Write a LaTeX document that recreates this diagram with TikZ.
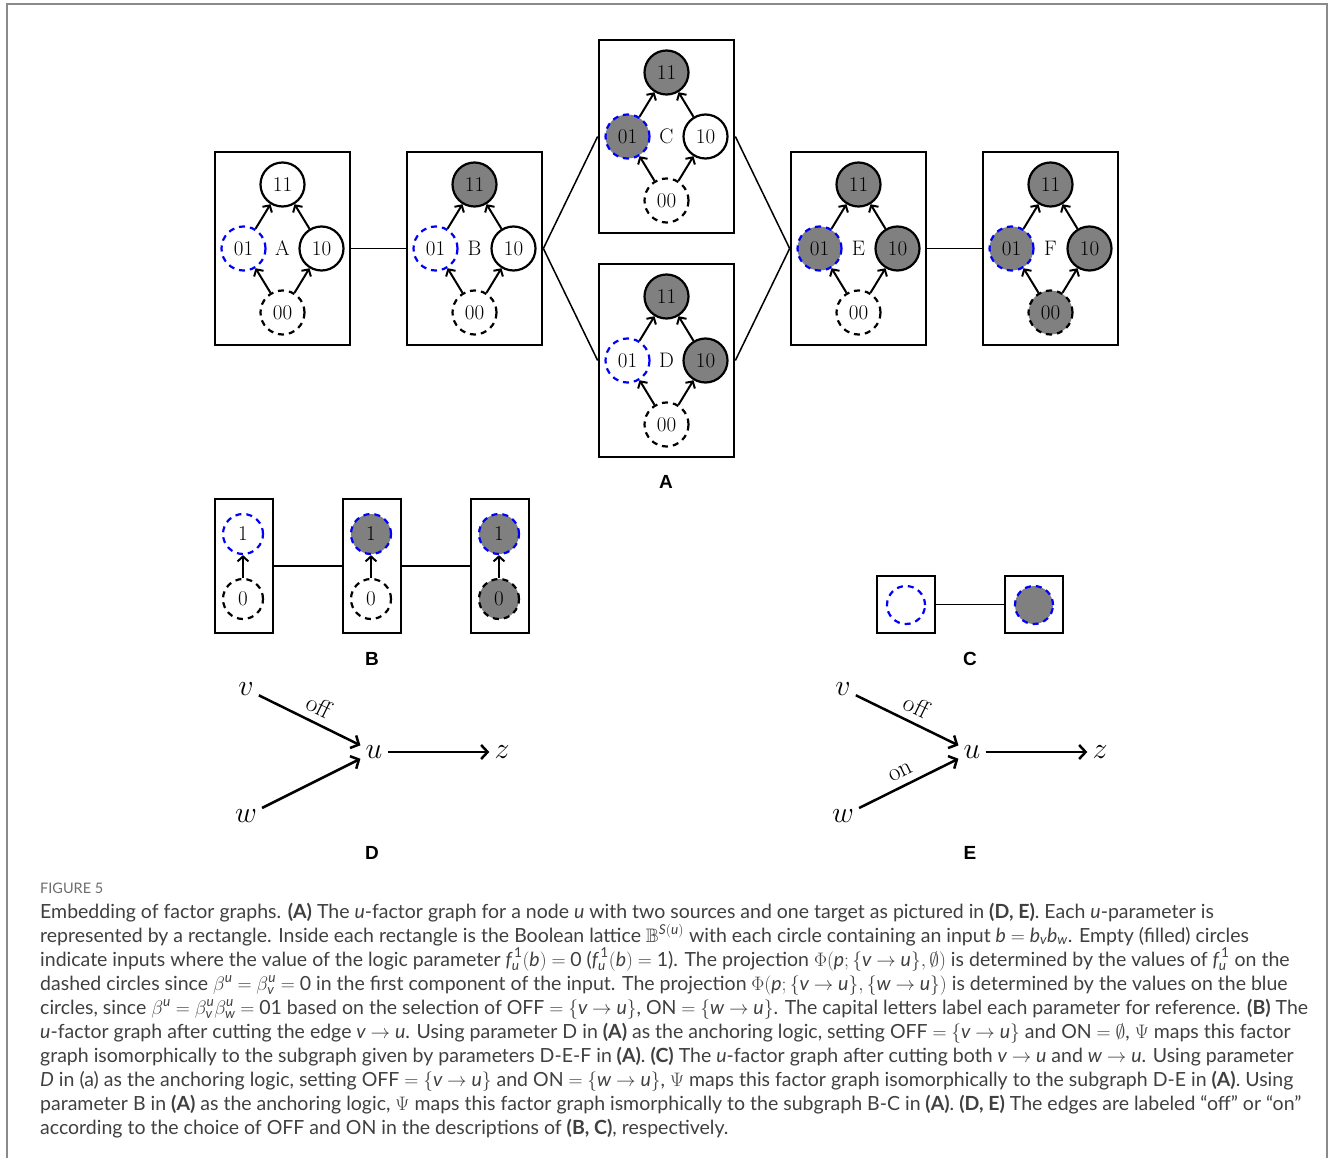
\RequirePackage{fix-cm}
\documentclass[tikz,border=0pt]{standalone}
\usepackage{amsmath}
\usepackage{amssymb}
\usepackage{fontspec}
\newfontfamily\capfont{Lato}
\newfontfamily\labfont{Liberation Sans}
\usetikzlibrary{arrows.meta}

\definecolor{captext}{HTML}{404040}
\definecolor{framegray}{HTML}{8A8A8A}

\newcommand\V[1]{\textit{#1}}
\newcommand\tightmath{\thickmuskip=4.5mu plus 1mu\medmuskip=3.5mu plus 1mu}

% one parameter box: Boolean lattice of two inputs
\newcommand\lattice[7]{%
  \node[pbox, minimum width=135pt, minimum height=193pt] (#1) at (#2,#3) {};
  \node[letter] (#1-lab) at (#2,#3) {#1};
  \node[lat,#4] (#1-11) at (#2,#3-64) {11};
  \node[lat,#5] (#1-01) at (#2-39,#3) {01};
  \node[lat,#6] (#1-10) at (#2+39,#3) {10};
  \node[lat,#7] (#1-00) at (#2,#3+64) {00};
  \draw[lar] (#1-00) -- (#1-01);
  \draw[lar] (#1-00) -- (#1-10);
  \draw[lar] (#1-01) -- (#1-11);
  \draw[lar] (#1-10) -- (#1-11);
}

% one parameter box: lattice of a single input
\newcommand\chain[4]{%
  \node[pbox, minimum width=58pt, minimum height=134pt] (#1) at (#2,566) {};
  \node[lat,minimum size=40pt,#3] (#1-1) at (#2-1,534) {1};
  \node[lat,minimum size=40pt,#4] (#1-0) at (#2-1,599) {0};
  \draw[lar] (#1-0) -- (#1-1);
}

\tikzset{
  pbox/.style={draw, line width=2.7pt, inner sep=0pt},
  lat/.style={circle, draw, line width=2.2pt, minimum size=44pt, inner sep=0pt,
    font=\fontsize{21}{21}\selectfont},
  letter/.style={font=\fontsize{21}{21}\selectfont, inner sep=0pt},
  dsh/.style={dash pattern=on 6pt off 5pt},
  ws/.style={fill=white},
  gs/.style={fill=gray},
  wbd/.style={fill=white, draw=blue, dsh},
  gbd/.style={fill=gray, draw=blue, dsh},
  wkd/.style={fill=white, dsh},
  gkd/.style={fill=gray, dsh},
  lar/.style={-{Straight Barb[length=5pt,width=11pt]}, line width=2pt},
  link/.style={line width=1.5pt},
  dar/.style={-{Straight Barb[length=6.5pt,width=14pt]}, line width=2.5pt},
  mvar/.style={font=\fontsize{30}{30}\selectfont, inner sep=5pt},
  elab/.style={font=\fontsize{25}{25}\selectfont, pos=0.52, above, sloped, inner sep=7pt},
  panel/.style={font=\labfont\bfseries\fontsize{19}{19}\selectfont},
  capline/.style={anchor=base west, inner sep=0pt, text=captext,
    font=\capfont\fontsize{19.5}{22}\selectfont\tightmath},
}

\begin{document}
\begin{tikzpicture}[x=1pt,y=-1pt]
\useasboundingbox (0,0) rectangle (1330,1158);
\fill[white] (0,0) rectangle (1330,1158);
\draw[framegray, line width=2pt] (7,1158) -- (7,4) -- (1327,4) -- (1327,1158);

% (A) the u-factor graph
\lattice{A}{282.5}{248.5}{ws}{wbd}{ws}{wkd}
\lattice{B}{474.5}{248.5}{gs}{wbd}{ws}{wkd}
\lattice{C}{666.5}{136.5}{gs}{gbd}{ws}{wkd}
\lattice{D}{666.5}{360.5}{gs}{wbd}{gs}{wkd}
\lattice{E}{858.5}{248.5}{gs}{gbd}{gs}{wkd}
\lattice{F}{1050.5}{248.5}{gs}{gbd}{gs}{gkd}
\draw[link] (A.east) -- (B.west);
\draw[link] (B.east) -- (C.west);
\draw[link] (B.east) -- (D.west);
\draw[link] (C.east) -- (E.west);
\draw[link] (D.east) -- (E.west);
\draw[link] (E.east) -- (F.west);
\node[panel] (labA) at (666,482) {A};

% (B) after cutting v -> u
\chain{b1}{244}{wbd}{wkd}
\chain{b2}{372}{gbd}{wkd}
\chain{b3}{500}{gbd}{gkd}
\draw[link] (b1.east) -- (b2.west);
\draw[link] (b2.east) -- (b3.west);
\node[panel] (labB) at (372,659) {B};

% (C) after cutting both edges
\node[pbox, minimum width=58pt, minimum height=57pt] (c1) at (906,604.5) {};
\node[pbox, minimum width=58pt, minimum height=57pt] (c2) at (1034,604.5) {};
\node[lat, minimum size=38pt, wbd] (c1-0) at (906,605) {};
\node[lat, minimum size=38pt, gbd] (c2-0) at (1034,605) {};
\draw[link] (c1.east) -- (c2.west);
\node[panel] (labC) at (970,659) {C};

% (D) network with the off edge
\node[mvar] (dv) at (246,689) {$v$};
\node[mvar] (dw) at (246,816) {$w$};
\node[mvar] (du) at (374,752) {$u$};
\node[mvar] (dz) at (502,752) {$z$};
\draw[dar] (dv) -- node[elab] {off} (du);
\draw[dar] (dw) -- (du);
\draw[dar] (du) -- (dz);
\node[panel] (labD) at (372,853) {D};

% (E) network with off and on edges
\node[mvar] (ev) at (843,689) {$v$};
\node[mvar] (ew) at (843,816) {$w$};
\node[mvar] (eu) at (972,752) {$u$};
\node[mvar] (ez) at (1100,752) {$z$};
\draw[dar] (ev) -- node[elab] {off} (eu);
\draw[dar] (ew) -- node[elab, pos=0.48] {on} (eu);
\draw[dar] (eu) -- (ez);
\node[panel] (labE) at (970,853) {E};

% caption
\node[capline, text=framegray!80!black, font=\capfont\fontsize{14.5}{16}\selectfont] (fig) at (40,893) {FIGURE 5};
\node[capline] (l1) at (40,918) {Embedding of factor graphs. \textbf{(A)} The \V{u}-factor graph for a node \V{u} with two sources and one target as pictured in \textbf{(D, E)}. Each \V{u}-parameter is};
\node[capline] (l2) at (40,942) {represented by a rectangle. Inside each rectangle is the Boolean lattice $\mathbb{B}^{\V{S}(\V{u})}$ with each circle containing an input $\V{b}=\V{b}_{\V{v}}\V{b}_{\V{w}}$. Empty (filled) circles};
\node[capline] (l3) at (40,966) {indicate inputs where the value of the logic parameter $\V{f}^{\,\text{1}}_{\V{u}}(\V{b})=\text{0}$ ($\V{f}^{\,\text{1}}_{\V{u}}(\V{b})=\text{1}$). The projection $\Phi(\V{p};\{\V{v}\rightarrow\V{u}\},\emptyset)$ is determined by the values of $\V{f}^{\,\text{1}}_{\V{u}}$ on the};
\node[capline] (l4) at (40,990) {dashed circles since $\beta^{\V{u}}=\beta^{\V{u}}_{\V{v}}=\text{0}$ in the first component of the input. The projection $\Phi(\V{p};\{\V{v}\rightarrow\V{u}\},\{\V{w}\rightarrow\V{u}\})$ is determined by the values on the blue};
\node[capline] (l5) at (40,1014) {circles, since $\beta^{\V{u}}=\beta^{\V{u}}_{\V{v}}\beta^{\V{u}}_{\V{w}}=\text{01}$ based on the selection of OFF${}=\{\V{v}\rightarrow\V{u}\}$, ON${}=\{\V{w}\rightarrow\V{u}\}$. The capital letters label each parameter for reference. \textbf{(B)} The};
\node[capline] (l6) at (40,1038) {\V{u}-factor graph after cutting the edge $\V{v}\rightarrow\V{u}$. Using parameter D in \textbf{(A)} as the anchoring logic, setting OFF${}=\{\V{v}\rightarrow\V{u}\}$ and ON${}=\emptyset$, $\Psi$ maps this factor};
\node[capline] (l7) at (40,1062) {graph isomorphically to the subgraph given by parameters D-E-F in \textbf{(A)}. \textbf{(C)} The \V{u}-factor graph after cutting both $\V{v}\rightarrow\V{u}$ and $\V{w}\rightarrow\V{u}$. Using parameter};
\node[capline] (l8) at (40,1086) {\V{D} in (a) as the anchoring logic, setting OFF${}=\{\V{v}\rightarrow\V{u}\}$ and ON${}=\{\V{w}\rightarrow\V{u}\}$, $\Psi$ maps this factor graph isomorphically to the subgraph D-E in \textbf{(A)}. Using};
\node[capline] (l9) at (40,1110) {parameter B in \textbf{(A)} as the anchoring logic, $\Psi$ maps this factor graph ismorphically to the subgraph B-C in \textbf{(A)}. \textbf{(D, E)} The edges are labeled “off” or “on”};
\node[capline] (l10) at (40,1134) {according to the choice of OFF and ON in the descriptions of \textbf{(B, C)}, respectively.};
\end{tikzpicture}
\end{document}
